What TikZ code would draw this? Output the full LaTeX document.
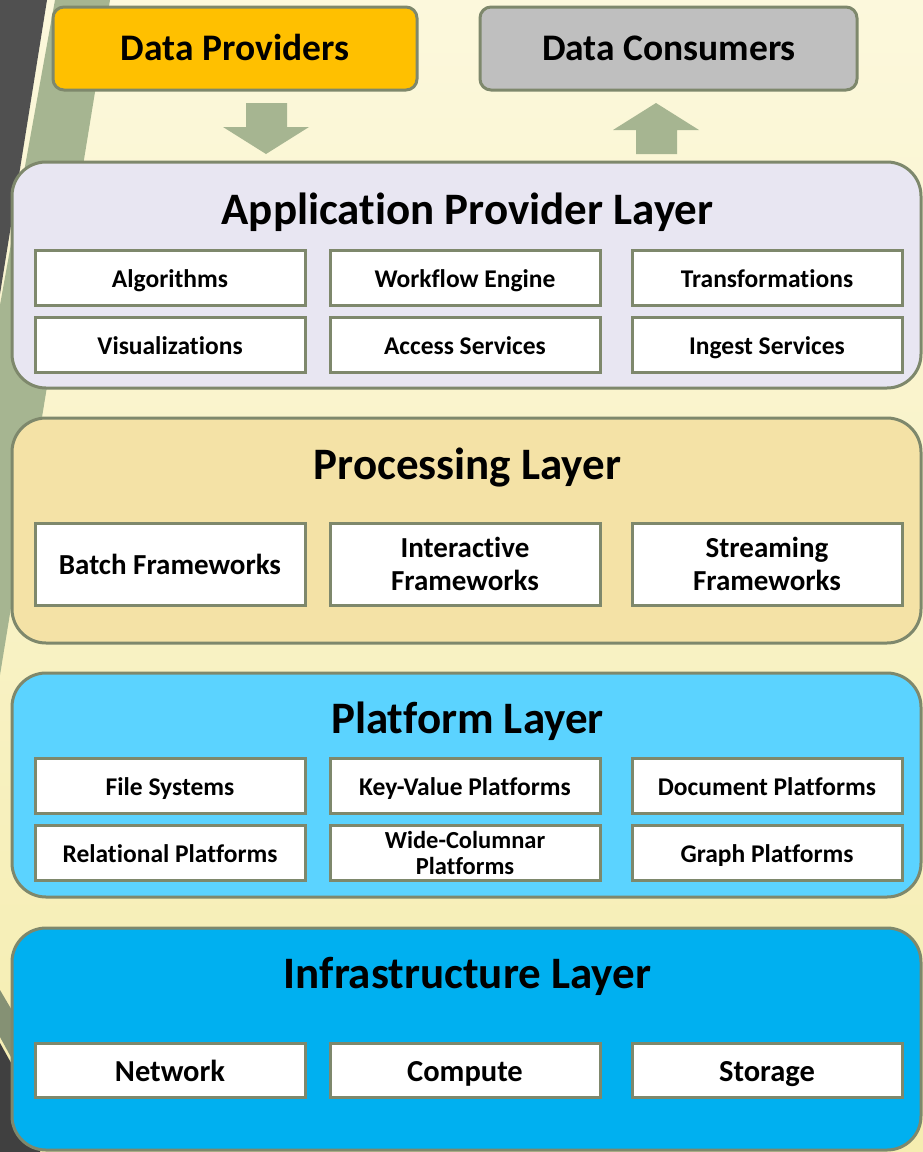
\documentclass[tikz,border=0pt]{standalone}
\usepackage{fontspec}
\setmainfont{Carlito}[Ligatures={NoCommon}]
\definecolor{edge}{RGB}{126,136,108}
\definecolor{sage}{RGB}{166,181,145}
\definecolor{darkband}{RGB}{80,80,80}
\definecolor{creamtop}{RGB}{252,248,220}
\definecolor{creambot}{RGB}{245,237,176}
\definecolor{lavender}{RGB}{232,230,242}
\definecolor{tan}{RGB}{244,226,166}
\definecolor{skyblue}{RGB}{91,211,255}
\definecolor{deepblue}{RGB}{0,176,240}
\definecolor{gold}{RGB}{255,192,0}
\definecolor{silver}{RGB}{191,191,191}
\tikzset{
  layerbox/.style={draw=edge, line width=3pt, rounded corners=34pt},
  topbox/.style={draw=edge, line width=3pt, rounded corners=11pt},
  toplabel/.style={anchor=base, inner sep=0pt, font=\fontsize{37.5}{40}\selectfont\bfseries},
  itembox/.style={draw=edge, line width=3pt, fill=white, minimum width=270pt,
    align=center, inner sep=0pt},
  small/.style={itembox, text height=19pt, text depth=0pt, minimum height=55pt,
    font=\fontsize{25.5}{27}\selectfont\bfseries},
  mid/.style={itembox, minimum height=82pt, font=\fontsize{29}{33}\selectfont\bfseries},
  big/.style={itembox, text height=22.5pt, text depth=0pt, minimum height=54pt,
    font=\fontsize{30.5}{32}\selectfont\bfseries},
  layertitle/.style={anchor=base, inner sep=0pt, font=\fontsize{45}{48}\selectfont\bfseries},
  flowarrow/.style={fill=sage}
}
\begin{document}
\begin{tikzpicture}[x=1pt,y=-1pt]
\useasboundingbox (0,0) rectangle (923,1152);
% slide background
\shade[top color=creamtop, bottom color=creambot] (0,0) rectangle (923,1152);
% left-edge bands
\fill[darkband] (0,0) -- (47,0) -- (0,294) -- cycle;
\fill[sage] (55,0) -- (110,0) -- (0,675) -- (0,305) -- cycle;
\fill[sage!80!black] (0,990) -- (40,1058) -- (40,1110) -- (0,1037) -- cycle;
\fill[darkband!80!black] (0,1043) -- (40,1115) -- (40,1152) -- (0,1152) -- cycle;

% providers and consumers
\draw[topbox, fill=gold] (53,7) rectangle (417,90);
\node[toplabel] (prov) at (235,60) {Data Providers};
\draw[topbox, fill=silver] (480,7) rectangle (857,90);
\node[toplabel] (cons) at (669,60) {Data Consumers};

% flow arrows
\fill[flowarrow] (246,103) -- (287,103) -- (287,127) -- (309,127) -- (266,154)
  -- (223,127) -- (246,127) -- cycle;
\fill[flowarrow] (636,154) -- (677,154) -- (677,130) -- (699,130) -- (656,103)
  -- (613,130) -- (636,130) -- cycle;

% application provider layer
\draw[layerbox, fill=lavender] (12,162) rectangle (921,388);
\node[layertitle] (apptitle) at (467.5,224) {Application Provider Layer};
\node[small] (alg) at (170,277.5) {Algorithms};
\node[small] (wfe) at (465,277.5) {Workflow Engine};
\node[small] (trf) at (767,277.5) {Transformations};
\node[small] (vis) at (170,344.5) {Visualizations};
\node[small] (acc) at (465,344.5) {Access Services};
\node[small] (ing) at (767,344.5) {Ingest Services};

% processing layer
\draw[layerbox, fill=tan] (12,418) rectangle (921,643);
\node[layertitle] (proctitle) at (467.5,479) {Processing Layer};
\node[mid] (batch) at (170,564) {Batch Frameworks};
\node[mid] (inter) at (465,564) {Interactive\\Frameworks};
\node[mid] (stream) at (767,564) {Streaming\\Frameworks};

% platform layer
\draw[layerbox, fill=skyblue] (12,673) rectangle (921,897);
\node[layertitle] (plattitle) at (467.5,733) {Platform Layer};
\node[small] (fs) at (170,785.5) {File Systems};
\node[small] (kv) at (465,785.5) {Key-Value Platforms};
\node[small] (doc) at (767,785.5) {Document Platforms};
\node[small] (rel) at (170,852.5) {Relational Platforms};
\node[itembox, minimum height=55pt, font=\fontsize{24.5}{26}\selectfont\bfseries] (wide) at (465,852.5) {Wide-Columnar\\Platforms};
\node[small] (graph) at (767,852.5) {Graph Platforms};

% infrastructure layer
\draw[layerbox, fill=deepblue] (12,928) rectangle (921,1150);
\node[layertitle] (inftitle) at (467.5,988) {Infrastructure Layer};
\node[big] (net) at (170,1070) {Network};
\node[big] (comp) at (465,1070) {Compute};
\node[big] (stor) at (767,1070) {Storage};
\end{tikzpicture}
\end{document}
